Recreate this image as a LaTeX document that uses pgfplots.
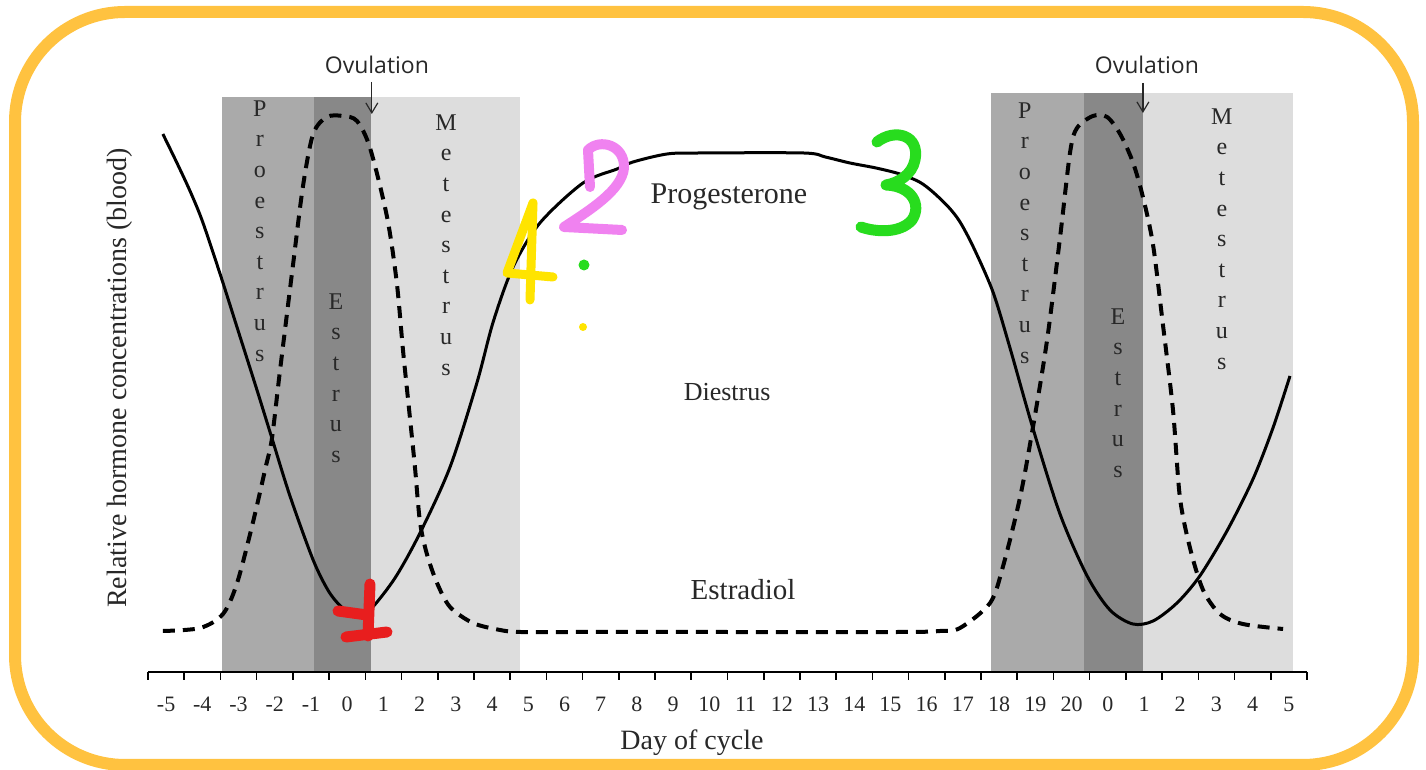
\documentclass[border=0pt]{standalone}
\usepackage{fontspec}
\setmainfont{Liberation Serif}
\newfontfamily\ovfont{Open Sans}
\usepackage{pgfplots}
\pgfplotsset{compat=1.18}
\usetikzlibrary{arrows.meta}
\definecolor{frameorange}{RGB}{255,194,64}
\definecolor{proe}{RGB}{170,170,170}
\definecolor{estr}{RGB}{136,136,136}
\definecolor{mete}{RGB}{221,221,221}
\definecolor{txt}{RGB}{40,40,40}
\definecolor{annred}{RGB}{232,30,30}
\definecolor{annpink}{RGB}{240,130,240}
\definecolor{anngreen}{RGB}{40,220,30}
\definecolor{annyellow}{RGB}{255,228,0}
\begin{document}
\begin{tikzpicture}
\useasboundingbox (0,0) rectangle (713pt,385pt);
\fill[white] (0,0) rectangle (713pt,385pt);
\begin{axis}[
  at={(74pt,49pt)}, anchor=south west,
  scale only axis, width=579.5pt, height=300pt,
  xmin=-0.5, xmax=31.5, ymin=0, ymax=600,
  axis x line=bottom, axis y line=none,
  x axis line style={-, line width=1pt},
  axis on top,
  xtick={-0.5,0.5,...,31.5}, xticklabels={},
  extra x ticks={0,1,...,31},
  extra x tick labels={-5,-4,-3,-2,-1,0,1,2,3,4,5,6,7,8,9,10,11,12,13,14,15,16,17,18,19,20,0,1,2,3,4,5},
  extra x tick style={major tick length=0pt},
  xticklabel style={font=\fontsize{11}{12}\selectfont, yshift=-9pt, text=txt},
  tick align=outside, major tick length=4pt,
  tick style={black, line width=0.8pt},
  clip=false,
]
% phase shading
\fill[proe] (axis cs:1.54,0) rectangle (axis cs:4.08,575);
\fill[estr] (axis cs:4.08,0) rectangle (axis cs:5.66,575);
\fill[mete] (axis cs:5.66,0) rectangle (axis cs:9.77,575);
\fill[proe] (axis cs:22.77,0) rectangle (axis cs:25.34,579);
\fill[estr] (axis cs:25.34,0) rectangle (axis cs:26.97,579);
\fill[mete] (axis cs:26.97,0) rectangle (axis cs:31.11,579);

% phase labels
\begin{scope}[every node/.style={font=\fontsize{12}{15.3}\selectfont, align=center, text=txt, inner sep=0pt}]
\node at (axis cs:2.59,441) {P\\r\\o\\e\\s\\t\\r\\u\\s};
\node at (axis cs:4.69,294) {E\\s\\t\\r\\u\\s};
\node at (axis cs:7.73,427) {M\\e\\t\\e\\s\\t\\r\\u\\s};
\node at (axis cs:23.71,439) {P\\r\\o\\e\\s\\t\\r\\u\\s};
\node at (axis cs:26.28,279) {E\\s\\t\\r\\u\\s};
\node at (axis cs:29.15,433) {M\\e\\t\\e\\s\\t\\r\\u\\s};
\end{scope}

% progesterone (solid)
\addplot[black, line width=1.5pt, smooth, tension=0.5] coordinates {
(-0.09,538) (0.30,509) (0.66,481) (1.0,451) (1.5,397) (2.0,340) (2.5,283)
(2.92,234) (3.42,176) (4.06,112) (4.5,80) (4.9,63) (5.27,56) (5.63,62)
(6.32,94) (7.01,139) (7.84,205) (8.58,289) (9.03,350) (9.58,405) (10.32,449)
(11.51,489) (12.45,503) (12.89,510) (13.83,518) (14.74,519) (17.6,519)
(18.2,515) (18.88,509) (19.6,504) (20.26,498) (20.8,490) (21.17,480) (21.6,465)
(21.92,450) (22.3,424) (22.83,380) (23.30,324) (23.93,244) (24.68,158)
(25.43,96) (26.06,62) (26.69,48) (27.25,51) (27.91,69) (28.54,96) (29.29,141)
(30.01,193) (30.56,244) (31.03,296)
};

% estradiol (dashed)
\addplot[black, line width=2pt, smooth, tension=0.5, dash pattern=on 6pt off 4pt] coordinates {
(-0.09,41) (0.94,44) (1.57,58) (1.96,89) (2.40,150) (2.75,205) (2.92,233) (3.14,300)
(3.50,406) (3.78,486) (4.06,538) (4.44,555) (4.88,556) (5.27,551) (5.63,524)
(6.10,455) (6.37,389) (6.54,322) (6.73,255) (6.87,205) (7.01,150) (7.20,118)
(7.48,89) (7.84,65) (8.47,49) (9.22,42) (9.77,40) (11.43,40) (14.74,40) (20.26,40)
(21.37,41) (21.92,44) (22.75,69) (23.11,106) (23.58,175) (23.93,244) (24.32,331)
(24.68,434) (24.96,520) (25.15,544) (25.59,556) (25.98,555) (26.34,538) (26.69,510)
(26.97,475) (27.25,427) (27.52,348) (27.80,262) (27.99,175) (28.27,124) (28.63,82)
(29.10,58) (29.73,48) (30.84,43)
};

% text labels
\node[font=\fontsize{15}{17}\selectfont, text=txt] at (axis cs:15.54,475) {Progesterone};
\node[font=\fontsize{13}{15}\selectfont, text=txt] at (axis cs:15.49,280) {Diestrus};
\node[font=\fontsize{14.5}{16}\selectfont, text=txt] at (axis cs:15.93,82) {Estradiol};
\node[font=\fontsize{14}{16}\selectfont, text=txt] at (axis cs:14.52,-71) {Day of cycle};
\node[font=\fontsize{14}{16}\selectfont, text=txt, rotate=90] at (axis cs:-1.27,294) {Relative hormone concentrations (blood)};

% ovulation
\node[font=\ovfont\fontsize{11.5}{13}\selectfont, text=txt] at (axis cs:5.82,607) {Ovulation};
\node[font=\ovfont\fontsize{11.5}{13}\selectfont, text=txt] at (axis cs:27.08,607) {Ovulation};
\draw[-{Straight Barb[length=5pt,width=6pt]}, line width=0.6pt, txt] (axis cs:5.68,590) -- (axis cs:5.68,558);
\draw[-{Straight Barb[length=5pt,width=6pt]}, line width=0.6pt, txt] (axis cs:26.97,589) -- (axis cs:26.97,559);
\end{axis}

% overlay in pixel coordinates
\begin{scope}[x=0.5pt, y=-0.5pt, yshift=385pt, line cap=round, line join=round]
% frame
\draw[frameorange, line width=6pt, rounded corners=55pt] (15,12) rectangle (1413,765);
% hand-drawn annotations
\draw[annred, line width=5.5pt] (370,584) -- (368,636);
\draw[annred, line width=5.5pt] (338,611) -- (367,615);
\draw[annred, line width=5.5pt] (346,637) -- (387,632);
\draw[annpink, line width=5pt] (590,187) -- (588,150) .. controls (600,138) and (625,145) .. (624,168) .. controls (622,190) and (590,210) .. (564,227) -- (622,230);
\draw[anngreen, line width=5.5pt] (877,142) .. controls (895,128) and (920,135) .. (915,160) .. controls (912,175) and (898,183) .. (886,185) .. controls (912,186) and (922,205) .. (912,220) .. controls (900,234) and (875,232) .. (861,227);
\draw[annyellow, line width=4.5pt] (533,203) -- (507,273) -- (553,277);
\draw[annyellow, line width=4.5pt] (533,203) -- (530,300);
\fill[anngreen] (584,265) circle (5.5);
\fill[annyellow] (583,327) circle (4);
\end{scope}
\end{tikzpicture}
\end{document}
